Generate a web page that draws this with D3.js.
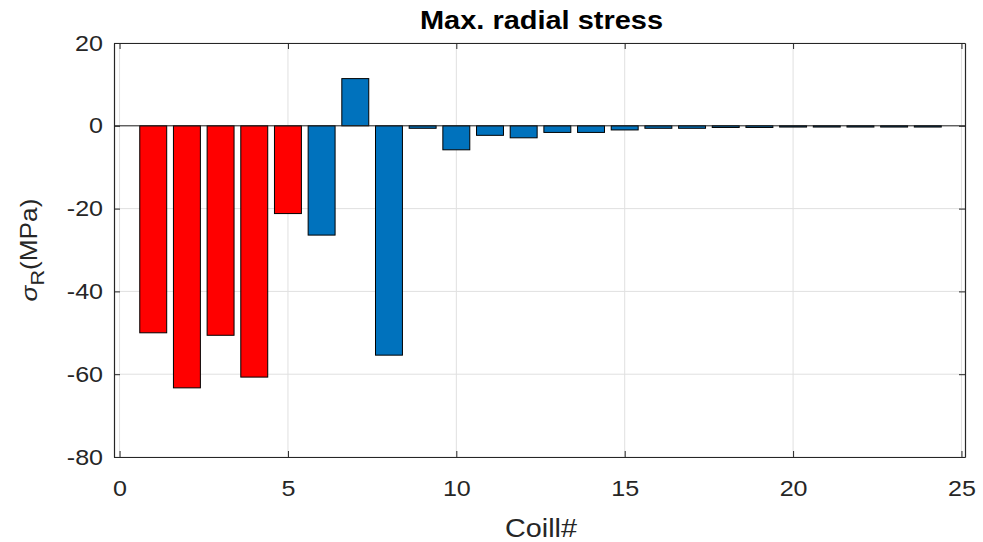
<!DOCTYPE html>
<html>
<head>
<meta charset="utf-8">
<script src="https://cdn.jsdelivr.net/npm/d3@7/dist/d3.min.js"></script>
<style>
  html, body { margin: 0; padding: 0; background: #fff; }
  svg { display: block; font-family: "Liberation Sans", Arial, sans-serif; }
</style>
</head>
<body>
<svg id="chart" width="983" height="542"></svg>
<script>
// Coil numbers and peak radial stress per coil (MPa)
const coils = [1, 2, 3, 4, 5, 6, 7, 8, 9, 10, 11, 12, 13, 14, 15, 16, 17, 18, 19, 20, 21, 22, 23, 24];
const stress = [-50.0, -63.3, -50.6, -60.7, -21.2, -26.4, 11.4, -55.4, -0.6, -5.8, -2.3, -2.9, -1.6, -1.6, -1.0, -0.6, -0.6, -0.4, -0.4, -0.3, -0.3, -0.3, -0.3, -0.3];
// Coils 1-5 drawn in red, the rest in the default blue
const redCoils = [1, 2, 3, 4, 5];
const xTicks = [0, 5, 10, 15, 20, 25];
const yTicks = [-80, -60, -40, -20, 0, 20];

const svg = d3.select("#chart");
const mLeft = 114, mRight = 965, mTop = 43, mBottom = 457;
const stretch = 1.14; // horizontal widening of the label glyphs

const x = d3.scaleLinear().domain([-0.165, 25.105]).range([mLeft, mRight]);
const y = d3.scaleLinear().domain([-80, 20]).range([mBottom, mTop]);

// Grid
const grid = svg.append("g");
grid.selectAll("line.gx").data(xTicks).join("line")
  .attr("x1", d => x(d)).attr("x2", d => x(d))
  .attr("y1", mTop).attr("y2", mBottom)
  .attr("stroke", "#e0e0e0").attr("stroke-width", 1);
grid.selectAll("line.gy").data(yTicks).join("line")
  .attr("x1", mLeft).attr("x2", mRight)
  .attr("y1", d => y(d)).attr("y2", d => y(d))
  .attr("stroke", "#e0e0e0").attr("stroke-width", 1);

// Bars
const barW = x(0.8) - x(0);
svg.append("g").selectAll("rect").data(coils).join("rect")
  .attr("x", (d) => x(d) - barW / 2)
  .attr("width", barW)
  .attr("y", (d, i) => Math.min(y(stress[i]), y(0)))
  .attr("height", (d, i) => Math.abs(y(stress[i]) - y(0)))
  .attr("fill", d => redCoils.includes(d) ? "#ff0000" : "#0072bd")
  .attr("stroke", "#000").attr("stroke-width", 1);

// Baseline at zero
svg.append("line")
  .attr("x1", mLeft).attr("x2", mRight)
  .attr("y1", y(0)).attr("y2", y(0))
  .attr("stroke", "#262626").attr("stroke-width", 1);

// Axes box with inward ticks
const fmt = d => String(d);
const axisG = svg.append("g");
const xAxisG = axisG.append("g").attr("transform", `translate(0,${mBottom})`)
  .call(d3.axisBottom(x).tickValues(xTicks).tickSizeInner(-6).tickSizeOuter(0).tickPadding(23).tickFormat(fmt));
axisG.append("g").attr("transform", `translate(0,${mTop})`)
  .call(d3.axisTop(x).tickValues(xTicks).tickSizeInner(-6).tickSizeOuter(0).tickFormat(""));
const yAxisG = axisG.append("g").attr("transform", `translate(${mLeft},0)`)
  .call(d3.axisLeft(y).tickValues(yTicks).tickSizeInner(-6).tickSizeOuter(0).tickPadding(11).tickFormat(fmt));
axisG.append("g").attr("transform", `translate(${mRight},0)`)
  .call(d3.axisRight(y).tickValues(yTicks).tickSizeInner(-6).tickSizeOuter(0).tickFormat(""));
axisG.selectAll(".domain").attr("stroke", "#262626").attr("stroke-width", 1.2);
axisG.selectAll(".tick line").attr("stroke", "#262626");
axisG.selectAll(".tick text")
  .attr("fill", "#262626")
  .style("font-size", "22px")
  .style("font-family", "'Liberation Sans', Arial, sans-serif");
xAxisG.selectAll(".tick text").attr("transform", `scale(${stretch},1)`);
yAxisG.selectAll(".tick text").attr("transform", `translate(-11,0) scale(${stretch},1) translate(11,0)`);

// Title
svg.append("text")
  .attr("x", 541.5).attr("y", 29)
  .attr("text-anchor", "middle")
  .attr("textLength", 243).attr("lengthAdjust", "spacingAndGlyphs")
  .style("font-size", "25px").style("font-weight", "bold")
  .attr("fill", "#000")
  .text("Max. radial stress");

// X label
svg.append("text")
  .attr("x", 541).attr("y", 537)
  .attr("text-anchor", "middle")
  .attr("textLength", 72).attr("lengthAdjust", "spacingAndGlyphs")
  .style("font-size", "25px")
  .attr("fill", "#262626")
  .text("Coill#");

// Y label: sigma with subscript R
const yl = svg.append("text")
  .attr("transform", `translate(37,${(mTop + mBottom) / 2}) rotate(-90) scale(${stretch},1)`)
  .attr("text-anchor", "middle")
  .style("font-size", "23px")
  .attr("fill", "#262626");
yl.append("tspan").style("font-style", "italic").text("σ");
yl.append("tspan").attr("dy", 7).style("font-size", "19px").text("R");
yl.append("tspan").attr("dy", -7).text("(MPa)");
</script>
</body>
</html>
